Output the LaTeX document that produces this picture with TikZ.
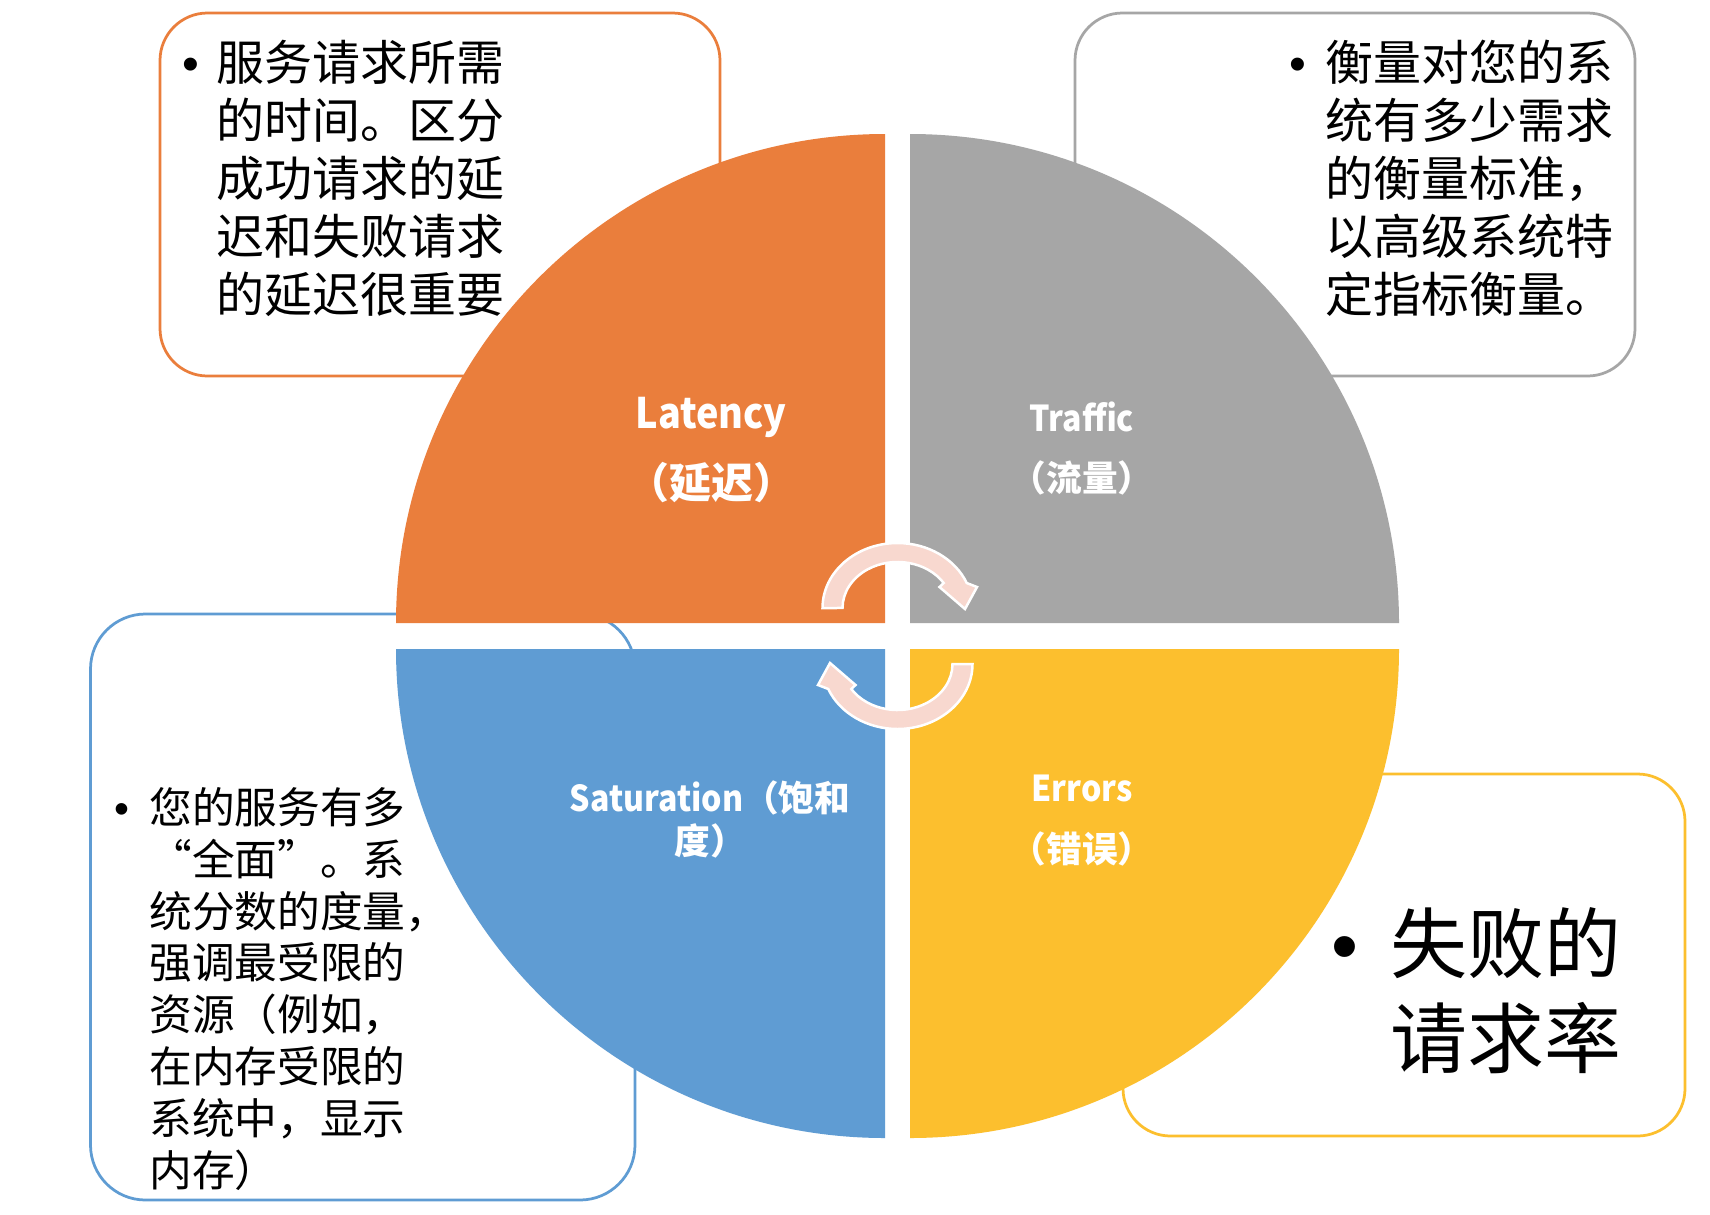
\documentclass[tikz,border=0pt]{standalone}
\usepackage{fontspec}
\setmainfont{Liberation Sans}
\newfontfamily\cjk{Noto Sans CJK SC}
\newfontfamily\cjkn{Noto Sans CJK SC}[FakeStretch=0.9]
\newfontfamily\cjkfw{Noto Sans CJK SC}[CharacterWidth=Full]
\definecolor{cOr}{HTML}{EA7E3C}
\definecolor{cGr}{HTML}{A6A6A6}
\definecolor{cBl}{HTML}{5F9CD3}
\definecolor{cYe}{HTML}{FCBF2E}
\definecolor{cArr}{HTML}{F8D8CF}
\begin{document}
\begin{tikzpicture}[x=0.02cm, y=-0.02cm,
  boxline/.style={line width=0.055cm, rounded corners=0.95cm, fill=white},
  ln/.style={inner sep=0pt, anchor=base west, text=black},
  lnA/.style={ln, font=\cjk\fontsize{27.3}{32}\selectfont},
  lnB/.style={ln, font=\cjk\fontsize{24.3}{29}\selectfont},
  lnC/.style={ln, font=\cjk\fontsize{43.8}{52}\selectfont},
  bul/.style={inner sep=0pt, anchor=base, text=black},
  bulA/.style={bul, font=\fontsize{27.3}{32}\selectfont},
  bulB/.style={bul, font=\fontsize{24.3}{29}\selectfont},
  bulC/.style={bul, font=\fontsize{43.8}{52}\selectfont},
  labA/.style={inner sep=0pt, anchor=base, text=white, font=\cjk\bfseries\fontsize{23.9}{28}\selectfont},
  labB/.style={inner sep=0pt, anchor=base, text=white, font=\cjk\bfseries\fontsize{20.3}{24}\selectfont},
  cyc/.style={fill=cArr, draw=white, line width=0.05cm, line join=miter}]
\useasboundingbox[fill=white] (0,0) rectangle (1710,1214);

% text boxes (behind the circle)
\draw[boxline, draw=cOr] (160,13) rectangle (720,376);
\draw[boxline, draw=cGr] (1075,13) rectangle (1635,376);
\draw[boxline, draw=cBl, rounded corners=1.1cm] (90.5,614) rectangle (635,1200);
\draw[boxline, draw=cYe] (1123,774) rectangle (1685,1136);

% quadrants
\fill[cOr] (885,623) -- (396,623) arc[start angle=180, end angle=270, radius=489] -- cycle;
\fill[cGr] (910,623) -- (910,134) arc[start angle=270, end angle=360, radius=489] -- cycle;
\fill[cBl] (885,649) -- (396,649) arc[start angle=180, end angle=90, radius=489] -- cycle;
\fill[cYe] (910,649) -- (1399,649) arc[start angle=0, end angle=90, radius=489] -- cycle;

% cycle arrows
\draw[cyc] (822.5,608) arc[start angle=-180, end angle=-22.6, x radius=75, y radius=65]
  -- (977,587) -- (965,609) -- (939.5,587) -- (943.7,583)
  arc[start angle=-32.9, end angle=-180, x radius=55, y radius=46] -- cycle;
\begin{scope}[rotate around={180:(897.5,636)}]
\draw[cyc] (822.5,608) arc[start angle=-180, end angle=-22.6, x radius=75, y radius=65]
  -- (977,587) -- (965,609) -- (939.5,587) -- (943.7,583)
  arc[start angle=-32.9, end angle=-180, x radius=55, y radius=46] -- cycle;
\end{scope}

% quadrant labels
\node[labA] (latA) at (711,428) {\cjkn Latency};
\node[labA] (latB) at (711,498) {（延迟）};
\node[labB] (traA) at (1082,431) {\cjkn Traffic};
\node[labB] (traB) at (1082,491) {（流量）};
\node[labB] (satA) at (710,811) {{\cjkn Saturation}（饱和};
\node[labB] (satB) at (710,854) {度）};
\node[labB] (errA) at (1082,801) {\cjkn Errors};
\node[labB] (errB) at (1082,862) {（错误）};

% top-left box text
\node[bulA] (ob) at (191,80.2) {•};
\node[lnA] (o1) at (216,80.2) {服务请求所需};
\node[lnA] (o2) at (216,138.3) {的时间。区分};
\node[lnA] (o3) at (216,196.4) {成功请求的延};
\node[lnA] (o4) at (216,254.5) {迟和失败请求};
\node[lnA] (o5) at (216,312.6) {的延迟很重要};

% top-right box text
\node[bulA] (gb) at (1298,80.2) {•};
\node[lnA] (g1) at (1325,80.2) {衡量对您的系};
\node[lnA] (g2) at (1325,138.3) {统有多少需求};
\node[lnA] (g3) at (1325,196.4) {的衡量标准，};
\node[lnA] (g4) at (1325,254.5) {以高级系统特};
\node[lnA] (g5) at (1325,312.6) {定指标衡量。};

% bottom-left box text
\node[bulB] (bb) at (122,823.2) {•};
\node[lnB] (b1) at (149,823.2) {您的服务有多};
\node[lnB] (b2) at (149,875.1) {\cjkfw “全面”。系};
\node[lnB] (b3) at (149,927) {统分数的度量，};
\node[lnB] (b4) at (149,978.9) {强调最受限的};
\node[lnB] (b5) at (149,1030.8) {资源（例如，};
\node[lnB] (b6) at (149,1082.7) {在内存受限的};
\node[lnB] (b7) at (149,1134.6) {系统中，显示};
\node[lnB] (b8) at (149,1186.5) {内存）};

% bottom-right box text
\node[bulC] (yb) at (1345,972.7) {•};
\node[lnC] (y1) at (1390,972.7) {失败的};
\node[lnC] (y2) at (1390,1067.6) {请求率};
\end{tikzpicture}
\end{document}
